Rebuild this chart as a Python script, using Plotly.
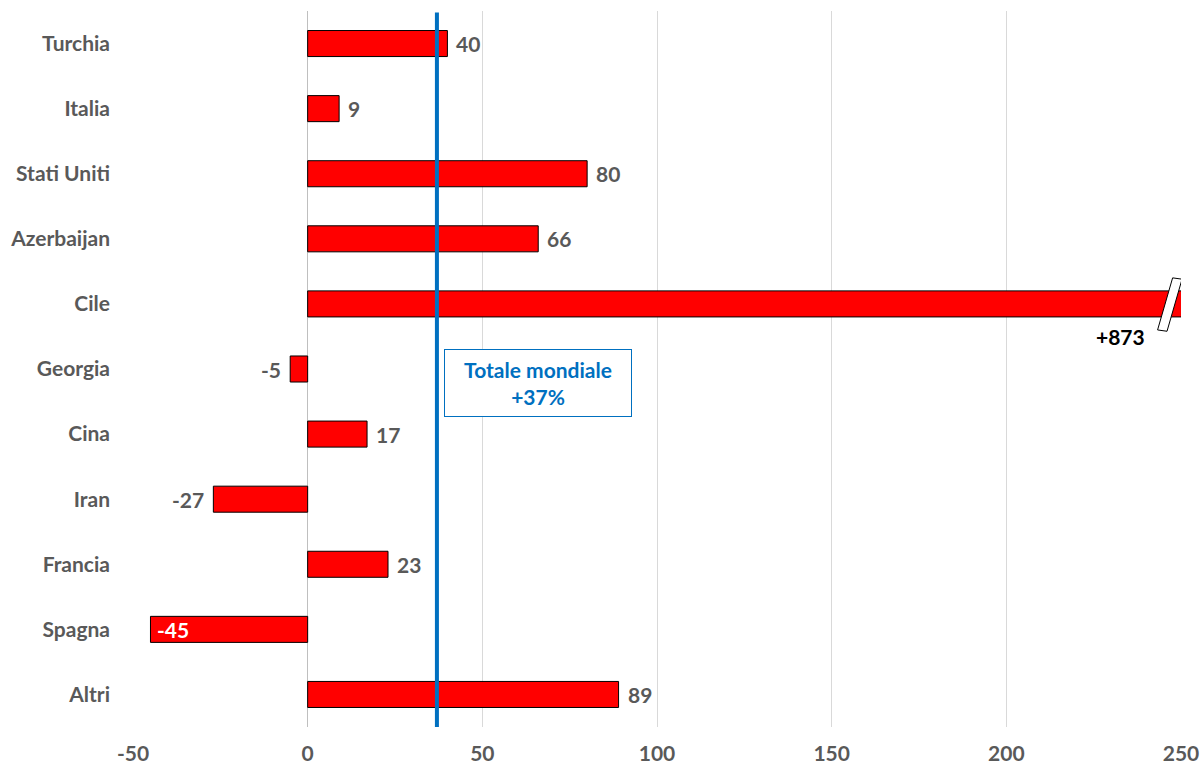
import plotly.graph_objects as go

# Variazione percentuale per paese
paesi = ["Turchia", "Italia", "Stati Uniti", "Azerbaijan", "Cile", "Georgia",
         "Cina", "Iran", "Francia", "Spagna", "Altri"]
variazioni = [40, 9, 80, 66, 873, -5, 17, -27, 23, -45, 89]
totale_mondiale = 37
x_ticks = [-50, 0, 50, 100, 150, 200, 250]
x_max = 250

FONT = "Lato"
GREY = "#595959"
BLUE = "#0070C0"
FS = 21

fig = go.Figure()
fig.add_trace(go.Bar(
    x=variazioni, y=paesi, orientation="h",
    marker=dict(color="#FF0000", line=dict(color="#000000", width=1)),
    width=0.4, cliponaxis=True, hoverinfo="skip",
))

# Etichette dei valori
v_min = min(variazioni)
for p, v in zip(paesi, variazioni):
    if v > x_max:
        # valore fuori scala: etichetta sotto la barra
        fig.add_annotation(
            x=x_max, y=p, xref="x", yref="y", text=f"+{v}", showarrow=False,
            xanchor="right", yanchor="middle", xshift=-34, yshift=-33,
            font=dict(family=FONT, size=FS, color="black", weight="bold"),
        )
    elif v == v_min:
        fig.add_annotation(
            x=v, y=p, xref="x", yref="y", text=str(v), showarrow=False,
            xanchor="left", xshift=5,
            font=dict(family=FONT, size=FS, color="white", weight="bold"),
        )
    elif v >= 0:
        fig.add_annotation(
            x=v, y=p, xref="x", yref="y", text=str(v), showarrow=False,
            xanchor="left", xshift=7,
            font=dict(family=FONT, size=FS, color=GREY, weight="bold"),
        )
    else:
        fig.add_annotation(
            x=v, y=p, xref="x", yref="y", text=str(v), showarrow=False,
            xanchor="right", xshift=-7,
            font=dict(family=FONT, size=FS, color=GREY, weight="bold"),
        )

# Linea del totale mondiale
fig.add_shape(type="line", xref="x", yref="paper",
              x0=totale_mondiale, x1=totale_mondiale, y0=0, y1=0.998,
              line=dict(color=BLUE, width=4))

fig.add_annotation(
    x=66, y=5.22, xref="x", yref="y",
    text=f"Totale mondiale<br>+{totale_mondiale}%",
    showarrow=False, font=dict(family=FONT, size=21, color=BLUE, weight="bold"),
    bgcolor="white", bordercolor=BLUE, borderwidth=1,
    width=184, height=64, align="center",
)

# Segno di interruzione sulla barra del Cile
fig.add_shape(
    type="path", xref="x", yref="y",
    path="M 247.6 3.60 L 250.3 3.62 L 246.0 4.42 L 243.3 4.40 Z",
    fillcolor="white", line=dict(color="black", width=1), layer="above",
)

fig.update_layout(
    width=1201, height=767,
    margin=dict(l=133, r=20, t=11, b=40, autoexpand=False),
    plot_bgcolor="white", paper_bgcolor="white",
    showlegend=False, bargap=0.6,
    font=dict(family=FONT, size=FS, color=GREY),
)
fig.update_xaxes(
    range=[-50, x_max], tickvals=x_ticks, ticktext=[str(t) for t in x_ticks],
    showgrid=True, gridcolor="#D9D9D9", automargin=False,
    gridwidth=1, zeroline=True, zerolinecolor="#BFBFBF", zerolinewidth=1,
    tickfont=dict(family=FONT, size=FS, color=GREY, weight="bold"),
    ticks="", showline=False, ticklabelstandoff=12,
    ticklabeloverflow="allow",
)
fig.update_yaxes(
    categoryorder="array", categoryarray=paesi, autorange="reversed",
    showgrid=False, zeroline=False, ticks="", automargin=False,
    tickfont=dict(family=FONT, size=FS, color=GREY, weight="bold"),
    ticklabelstandoff=22,
)

fig.write_html("out.html")
